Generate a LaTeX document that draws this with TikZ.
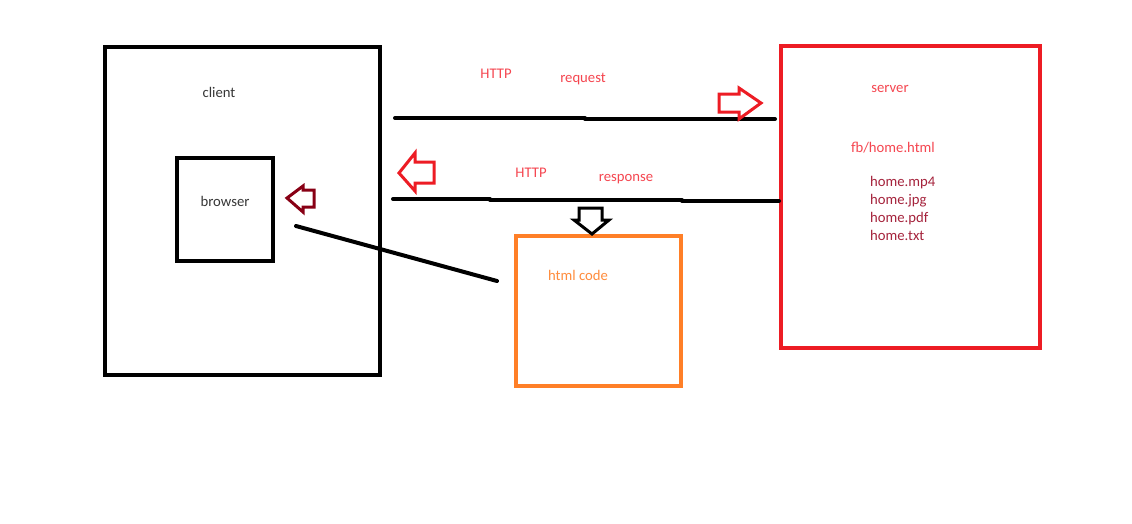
\documentclass[tikz,border=0pt]{standalone}
\usepackage{fontspec}
\setmainfont{Carlito}
\definecolor{srvred}{RGB}{237,28,36}
\definecolor{orng}{RGB}{255,127,39}
\definecolor{dkred}{RGB}{136,0,21}
\definecolor{lred}{RGB}{245,70,80}
\definecolor{fred}{RGB}{165,35,60}
\definecolor{lorng}{RGB}{255,140,60}
\definecolor{txtgray}{RGB}{55,55,55}
\begin{document}
\begin{tikzpicture}[x=1pt,y=-1pt,
  box/.style={draw,line width=4pt,outer sep=0pt,inner sep=0pt,anchor=north west},
  lbl/.style={font=\fontsize{14.7}{16}\selectfont,inner sep=0pt,anchor=base},
  wire/.style={line width=4pt,line cap=round},
  hollow/.style={line width=3pt,line join=miter,fill=white}]
\useasboundingbox[fill=white] (0,0) rectangle (1132,523);
% client
\node[box,minimum width=275pt,minimum height=328pt] (client) at (105,47) {};
\node[lbl,text=txtgray] (clientlbl) at (219,97) {client};
\node[box,minimum width=96pt,minimum height=103pt] (browser) at (177,158) {};
\node[lbl,text=txtgray] (browserlbl) at (225,206) {browser};
% server
\node[box,draw=srvred,minimum width=259pt,minimum height=302pt] (server) at (781,46) {};
\node[lbl,text=lred] (serverlbl) at (890,92) {server};
\node[lbl,text=lred] (fb) at (893,152) {fb/home.html};
\node[lbl,text=fred,anchor=base west] (mp4) at (870,186) {home.mp4};
\node[lbl,text=fred,anchor=base west] (jpg) at (870,204) {home.jpg};
\node[lbl,text=fred,anchor=base west] (pdf) at (870,222) {home.pdf};
\node[lbl,text=fred,anchor=base west] (txt) at (870,240) {home.txt};
% html code
\node[box,draw=orng,minimum width=165pt,minimum height=150pt] (html) at (516,236) {};
\node[lbl,text=lorng] (htmllbl) at (578,280) {html code};
% labels
\node[lbl,text=lred] (http1) at (496,78) {HTTP};
\node[lbl,text=lred] (req) at (583,82) {request};
\node[lbl,text=lred] (http2) at (531,177) {HTTP};
\node[lbl,text=lred] (resp) at (626,181) {response};
% lines
\coordinate (r1) at (395,118);
\coordinate (r2) at (585,118);
\coordinate (r3) at (585,119);
\coordinate (r4) at (775,119);
\draw[wire] (r1) -- (r2);
\draw[wire] (r3) -- (r4);
\coordinate (s1) at (393,199);
\coordinate (s2) at (490,199);
\coordinate (s3) at (490,200);
\coordinate (s4) at (682,200);
\coordinate (s5) at (682,201);
\coordinate (s6) at (779,201);
\draw[wire] (s1) -- (s2);
\draw[wire] (s3) -- (s4);
\draw[wire] (s5) -- (s6);
\coordinate (d1) at (296,226);
\coordinate (d2) at (497,281);
\draw[wire] (d1) -- (d2);
% hollow arrows
\draw[hollow,draw=srvred] (719,94) -- (739,94) -- (739,88) -- (761,103) -- (739,119) -- (739,112) -- (719,112) -- cycle;
\draw[hollow,draw=srvred] (434,162) -- (415,162) -- (415,153) -- (399,173) -- (415,191) -- (415,183) -- (434,183) -- cycle;
\draw[hollow,draw=dkred] (314,190) -- (303,190) -- (303,186) -- (287,198) -- (303,212) -- (303,207) -- (314,207) -- cycle;
\draw[hollow,draw=black] (579,208) -- (602,208) -- (602,220) -- (609,220) -- (592,234) -- (574,220) -- (579,220) -- cycle;
\end{tikzpicture}
\end{document}
